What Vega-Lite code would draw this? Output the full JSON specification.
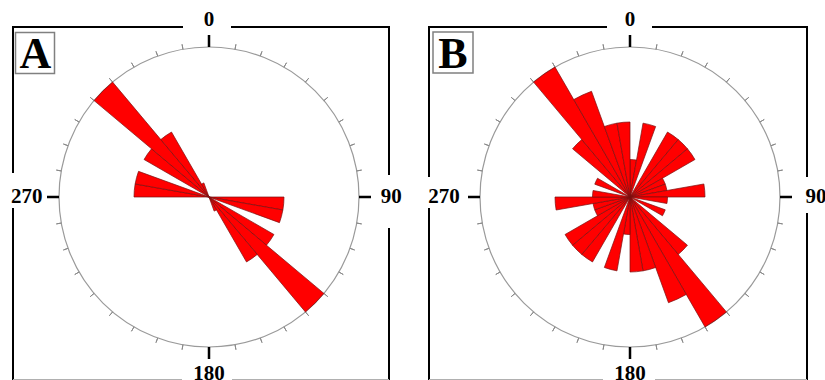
{
  "$schema": "https://vega.github.io/schema/vega-lite/v6.json",
  "padding": 0,
  "spacing": 0,
  "bounds": "flush",
  "background": "white",
  "config": {"view": {"stroke": null}},
  "datasets": {
    "roseA": [
      {"a0": 90, "a1": 100, "f": 1}, {"a0": 100, "a1": 110, "f": 1},
      {"a0": 120, "a1": 130, "f": 1}, {"a0": 130, "a1": 140, "f": 2},
      {"a0": 140, "a1": 150, "f": 1}, {"a0": 150, "a1": 160, "f": 0.2},
      {"a0": 270, "a1": 280, "f": 1}, {"a0": 280, "a1": 290, "f": 1},
      {"a0": 300, "a1": 310, "f": 1}, {"a0": 310, "a1": 320, "f": 2},
      {"a0": 320, "a1": 330, "f": 1}, {"a0": 330, "a1": 340, "f": 0.2}
    ],
    "roseB": [
      {"a0": 0, "a1": 10, "f": 1}, {"a0": 10, "a1": 20, "f": 2},
      {"a0": 30, "a1": 40, "f": 2}, {"a0": 40, "a1": 50, "f": 2},
      {"a0": 50, "a1": 60, "f": 2}, {"a0": 60, "a1": 70, "f": 1},
      {"a0": 70, "a1": 80, "f": 1}, {"a0": 80, "a1": 90, "f": 2},
      {"a0": 90, "a1": 100, "f": 1}, {"a0": 110, "a1": 120, "f": 1},
      {"a0": 130, "a1": 140, "f": 2}, {"a0": 140, "a1": 150, "f": 4},
      {"a0": 150, "a1": 160, "f": 3}, {"a0": 160, "a1": 170, "f": 2},
      {"a0": 170, "a1": 180, "f": 2},
      {"a0": 180, "a1": 190, "f": 1}, {"a0": 190, "a1": 200, "f": 2},
      {"a0": 210, "a1": 220, "f": 2}, {"a0": 220, "a1": 230, "f": 2},
      {"a0": 230, "a1": 240, "f": 2}, {"a0": 240, "a1": 250, "f": 1},
      {"a0": 250, "a1": 260, "f": 1}, {"a0": 260, "a1": 270, "f": 2},
      {"a0": 270, "a1": 280, "f": 1}, {"a0": 290, "a1": 300, "f": 1},
      {"a0": 310, "a1": 320, "f": 2}, {"a0": 320, "a1": 330, "f": 4},
      {"a0": 330, "a1": 340, "f": 3}, {"a0": 340, "a1": 350, "f": 2},
      {"a0": 350, "a1": 360, "f": 2}
    ],
    "ticks": [
      {"a": 0}, {"a": 10}, {"a": 20}, {"a": 30}, {"a": 40}, {"a": 50},
      {"a": 60}, {"a": 70}, {"a": 80}, {"a": 90}, {"a": 100}, {"a": 110},
      {"a": 120}, {"a": 130}, {"a": 140}, {"a": 150}, {"a": 160}, {"a": 170},
      {"a": 180}, {"a": 190}, {"a": 200}, {"a": 210}, {"a": 220}, {"a": 230},
      {"a": 240}, {"a": 250}, {"a": 260}, {"a": 270}, {"a": 280}, {"a": 290},
      {"a": 300}, {"a": 310}, {"a": 320}, {"a": 330}, {"a": 340}, {"a": 350}
    ],
    "compass": [
      {"a": 0, "t": "0"}, {"a": 90, "t": "90"}, {"a": 180, "t": "180"}, {"a": 270, "t": "270"}
    ],
    "frameA": [
      {"x": -196, "y": 170, "x2": -26, "y2": 170},
      {"x": 22, "y": 170, "x2": 180, "y2": 170},
      {"x": -196, "y": 171, "x2": -196, "y2": 24},
      {"x": -196, "y": -11, "x2": -196, "y2": -190},
      {"x": 180, "y": 171, "x2": 180, "y2": 22},
      {"x": 180, "y": -31, "x2": 180, "y2": -190}
    ],
    "frameB": [
      {"x": -201, "y": 170, "x2": -23, "y2": 170},
      {"x": 22, "y": 170, "x2": 177, "y2": 170},
      {"x": -201, "y": 171, "x2": -201, "y2": 20},
      {"x": -201, "y": -11, "x2": -201, "y2": -190},
      {"x": 177, "y": 171, "x2": 177, "y2": 20},
      {"x": 177, "y": -16, "x2": 177, "y2": -190}
    ],
    "baseA": [
      {"x": -196, "y": -182.5, "x2": -27, "y2": -182.5},
      {"x": 23, "y": -182.5, "x2": 180, "y2": -182.5}
    ],
    "baseB": [
      {"x": -201, "y": -182.5, "x2": -27, "y2": -182.5},
      {"x": 25, "y": -182.5, "x2": 177, "y2": -182.5}
    ]
  },
  "hconcat": [
    {
      "width": 412,
      "height": 380,
      "layer": [
        {
          "data": {"name": "frameA"},
          "mark": {"type": "rule", "color": "black", "strokeWidth": 2},
          "encoding": {
            "x": {"field": "x", "type": "quantitative", "scale": {"domain": [-209, 203], "nice": false, "zero": false}, "axis": null},
            "y": {"field": "y", "type": "quantitative", "scale": {"domain": [-183, 197], "nice": false, "zero": false}, "axis": null},
            "x2": {"field": "x2"},
            "y2": {"field": "y2"}
          }
        },
        {
          "data": {"name": "baseA"},
          "mark": {"type": "rule", "color": "#b0b0b0", "strokeWidth": 1},
          "encoding": {
            "x": {"field": "x", "type": "quantitative"},
            "y": {"field": "y", "type": "quantitative"},
            "x2": {"field": "x2"},
            "y2": {"field": "y2"}
          }
        },
        {
          "data": {"values": [{}]},
          "mark": {"type": "arc", "filled": false, "stroke": "#9a9a9a", "strokeWidth": 1.2},
          "encoding": {
            "x": {"datum": 0, "type": "quantitative"},
            "y": {"datum": 0, "type": "quantitative"},
            "theta": {"datum": 0, "type": "quantitative"},
            "theta2": {"datum": 360},
            "radius": {"datum": 2, "type": "quantitative"}
          }
        },
        {
          "data": {"name": "ticks"},
          "mark": {"type": "arc", "filled": false, "stroke": "#8a8a8a", "strokeWidth": 1},
          "encoding": {
            "x": {"datum": 0, "type": "quantitative"},
            "y": {"datum": 0, "type": "quantitative"},
            "theta": {"field": "a", "type": "quantitative", "stack": null},
            "theta2": {"field": "a"},
            "radius": {"datum": 2.0667, "type": "quantitative"},
            "radius2": {"datum": 2}
          }
        },
        {
          "data": {"name": "compass"},
          "mark": {"type": "arc", "filled": false, "stroke": "black", "strokeWidth": 2.5},
          "encoding": {
            "x": {"datum": 0, "type": "quantitative"},
            "y": {"datum": 0, "type": "quantitative"},
            "theta": {"field": "a", "type": "quantitative", "stack": null},
            "theta2": {"field": "a"},
            "radius": {"datum": 2.16, "type": "quantitative"},
            "radius2": {"datum": 2}
          }
        },
        {
          "data": {"name": "roseA"},
          "mark": {"type": "arc", "fill": "#ff0000", "stroke": "#7a1010", "strokeWidth": 0.7},
          "encoding": {
            "x": {"datum": 0, "type": "quantitative"},
            "y": {"datum": 0, "type": "quantitative"},
            "theta": {"field": "a0", "type": "quantitative", "stack": null, "scale": {"domain": [0, 360], "range": [0, 6.283185307179586], "nice": false, "zero": false}},
            "theta2": {"field": "a1"},
            "radius": {"field": "f", "type": "quantitative", "scale": {"type": "linear", "domain": [0, 2], "range": [0, 150], "nice": false, "zero": true}}
          }
        },
        {
          "data": {"name": "compass"},
          "transform": [{"filter": "datum.a == 0 || datum.a == 180"}],
          "mark": {"type": "text", "font": "Liberation Serif", "fontWeight": "bold", "fontSize": 21, "color": "black", "align": "center", "baseline": "middle"},
          "encoding": {
            "x": {"datum": 0, "type": "quantitative"},
            "y": {"datum": 0, "type": "quantitative"},
            "theta": {"field": "a", "type": "quantitative"},
            "radius": {"datum": 2.36, "type": "quantitative"},
            "text": {"field": "t"}
          }
        },
        {
          "data": {"name": "compass"},
          "transform": [{"filter": "datum.a == 90 || datum.a == 270"}],
          "mark": {"type": "text", "font": "Liberation Serif", "fontWeight": "bold", "fontSize": 21, "color": "black", "align": "center", "baseline": "middle"},
          "encoding": {
            "x": {"datum": 0, "type": "quantitative"},
            "y": {"datum": 0, "type": "quantitative"},
            "theta": {"field": "a", "type": "quantitative"},
            "radius": {"datum": 2.43, "type": "quantitative"},
            "text": {"field": "t"}
          }
        },
        {
          "data": {"values": [{}]},
          "mark": {"type": "rect", "filled": false, "stroke": "#808080", "strokeWidth": 1.5},
          "encoding": {
            "x": {"datum": -193.5, "type": "quantitative"},
            "x2": {"datum": -154.5},
            "y": {"datum": 164.5, "type": "quantitative"},
            "y2": {"datum": 123.5}
          }
        },
        {
          "data": {"values": [{}]},
          "mark": {"type": "text", "font": "Liberation Serif", "fontWeight": "bold", "fontSize": 44, "color": "black", "align": "center", "baseline": "middle"},
          "encoding": {
            "x": {"datum": -173.5, "type": "quantitative"},
            "y": {"datum": 142, "type": "quantitative"},
            "text": {"value": "A"}
          }
        }
      ]
    },
    {
      "width": 413,
      "height": 380,
      "layer": [
        {
          "data": {"name": "frameB"},
          "mark": {"type": "rule", "color": "black", "strokeWidth": 2},
          "encoding": {
            "x": {"field": "x", "type": "quantitative", "scale": {"domain": [-218, 195], "nice": false, "zero": false}, "axis": null},
            "y": {"field": "y", "type": "quantitative", "scale": {"domain": [-183, 197], "nice": false, "zero": false}, "axis": null},
            "x2": {"field": "x2"},
            "y2": {"field": "y2"}
          }
        },
        {
          "data": {"name": "baseB"},
          "mark": {"type": "rule", "color": "#b0b0b0", "strokeWidth": 1},
          "encoding": {
            "x": {"field": "x", "type": "quantitative"},
            "y": {"field": "y", "type": "quantitative"},
            "x2": {"field": "x2"},
            "y2": {"field": "y2"}
          }
        },
        {
          "data": {"values": [{}]},
          "mark": {"type": "arc", "filled": false, "stroke": "#9a9a9a", "strokeWidth": 1.2},
          "encoding": {
            "x": {"datum": 0, "type": "quantitative"},
            "y": {"datum": 0, "type": "quantitative"},
            "theta": {"datum": 0, "type": "quantitative"},
            "theta2": {"datum": 360},
            "radius": {"datum": 4, "type": "quantitative"}
          }
        },
        {
          "data": {"name": "ticks"},
          "mark": {"type": "arc", "filled": false, "stroke": "#8a8a8a", "strokeWidth": 1},
          "encoding": {
            "x": {"datum": 0, "type": "quantitative"},
            "y": {"datum": 0, "type": "quantitative"},
            "theta": {"field": "a", "type": "quantitative", "stack": null},
            "theta2": {"field": "a"},
            "radius": {"datum": 4.1333, "type": "quantitative"},
            "radius2": {"datum": 4}
          }
        },
        {
          "data": {"name": "compass"},
          "mark": {"type": "arc", "filled": false, "stroke": "black", "strokeWidth": 2.5},
          "encoding": {
            "x": {"datum": 0, "type": "quantitative"},
            "y": {"datum": 0, "type": "quantitative"},
            "theta": {"field": "a", "type": "quantitative", "stack": null},
            "theta2": {"field": "a"},
            "radius": {"datum": 4.32, "type": "quantitative"},
            "radius2": {"datum": 4}
          }
        },
        {
          "data": {"name": "roseB"},
          "mark": {"type": "arc", "fill": "#ff0000", "stroke": "#7a1010", "strokeWidth": 0.7},
          "encoding": {
            "x": {"datum": 0, "type": "quantitative"},
            "y": {"datum": 0, "type": "quantitative"},
            "theta": {"field": "a0", "type": "quantitative", "stack": null, "scale": {"domain": [0, 360], "range": [0, 6.283185307179586], "nice": false, "zero": false}},
            "theta2": {"field": "a1"},
            "radius": {"field": "f", "type": "quantitative", "scale": {"type": "linear", "domain": [0, 4], "range": [0, 150], "nice": false, "zero": true}}
          }
        },
        {
          "data": {"name": "compass"},
          "transform": [{"filter": "datum.a == 0 || datum.a == 180"}],
          "mark": {"type": "text", "font": "Liberation Serif", "fontWeight": "bold", "fontSize": 21, "color": "black", "align": "center", "baseline": "middle"},
          "encoding": {
            "x": {"datum": 0, "type": "quantitative"},
            "y": {"datum": 0, "type": "quantitative"},
            "theta": {"field": "a", "type": "quantitative"},
            "radius": {"datum": 4.72, "type": "quantitative"},
            "text": {"field": "t"}
          }
        },
        {
          "data": {"name": "compass"},
          "transform": [{"filter": "datum.a == 90 || datum.a == 270"}],
          "mark": {"type": "text", "font": "Liberation Serif", "fontWeight": "bold", "fontSize": 21, "color": "black", "align": "center", "baseline": "middle"},
          "encoding": {
            "x": {"datum": 0, "type": "quantitative"},
            "y": {"datum": 0, "type": "quantitative"},
            "theta": {"field": "a", "type": "quantitative"},
            "radius": {"datum": 4.96, "type": "quantitative"},
            "text": {"field": "t"}
          }
        },
        {
          "data": {"values": [{}]},
          "mark": {"type": "rect", "filled": false, "stroke": "#808080", "strokeWidth": 1.5},
          "encoding": {
            "x": {"datum": -197, "type": "quantitative"},
            "x2": {"datum": -157},
            "y": {"datum": 165, "type": "quantitative"},
            "y2": {"datum": 124}
          }
        },
        {
          "data": {"values": [{}]},
          "mark": {"type": "text", "font": "Liberation Serif", "fontWeight": "bold", "fontSize": 44, "color": "black", "align": "center", "baseline": "middle"},
          "encoding": {
            "x": {"datum": -177, "type": "quantitative"},
            "y": {"datum": 142, "type": "quantitative"},
            "text": {"value": "B"}
          }
        }
      ]
    }
  ]
}
